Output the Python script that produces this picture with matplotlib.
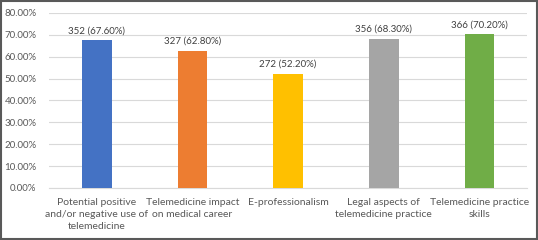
import matplotlib.pyplot as plt
from matplotlib.patches import Rectangle

categories = ["Potential positive\nand/or negative use of\ntelemedicine",
              "Telemedicine impact\non medical career",
              "E-professionalism",
              "Legal aspects of\ntelemedicine practice",
              "Telemedicine practice\nskills"]
counts = [352, 327, 272, 356, 366]
percents = [67.60, 62.80, 52.20, 68.30, 70.20]
colors = ["#4472C4", "#ED7D31", "#FFC000", "#A5A5A5", "#70AD47"]

plt.rcParams['font.family'] = ['Lato', 'DejaVu Sans']

fig = plt.figure(figsize=(5.38, 2.40), dpi=100)
ax = fig.add_axes([0.091, 0.217, 0.889, 0.729])

x = range(len(categories))
ax.bar(x, percents, width=0.31, color=colors, zorder=3)

for i in x:
    ax.text(i, percents[i] + 2.2, f"{counts[i]} ({percents[i]:.2f}%)",
            ha="center", va="bottom", fontsize=7, color="#404040")

ax.set_ylim(0, 80)
ax.set_xlim(-0.5, len(categories) - 0.5)
ax.set_yticks(range(0, 81, 10))
ax.set_yticklabels([f"{v:.2f}%" for v in range(0, 81, 10)])
ax.set_xticks(list(x))
ax.set_xticklabels(categories, linespacing=1.45)
ax.tick_params(axis="both", length=0, labelsize=7.5, labelcolor="#595959")
ax.tick_params(axis="y", pad=9, labelsize=7)
ax.tick_params(axis="x", pad=7)

ax.grid(axis="y", color="#D9D9D9", linewidth=0.8, zorder=0)
for s in ["top", "right", "left"]:
    ax.spines[s].set_visible(False)
ax.spines["bottom"].set_color("#D9D9D9")
ax.spines["bottom"].set_linewidth(0.8)

# outer frame
fig.patches.append(Rectangle((0.002, 0.004), 0.996, 0.992, transform=fig.transFigure,
                             fill=False, edgecolor="#595959", linewidth=1.5))

fig.savefig("out.png", dpi=100)
